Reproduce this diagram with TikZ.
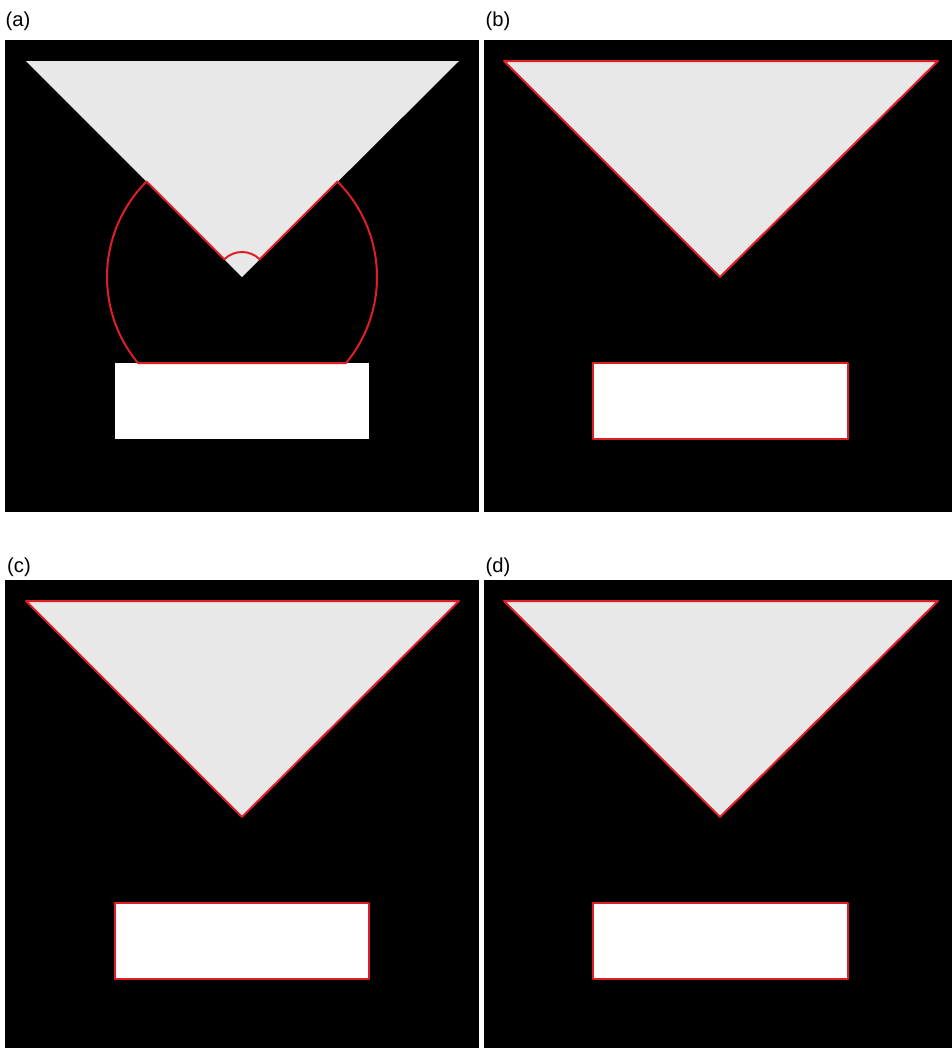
\documentclass[tikz,border=0pt]{standalone}
\usepackage{fontspec}
\setmainfont{Liberation Sans}
\usetikzlibrary{calc}
\definecolor{edgered}{RGB}{222,32,38}
\definecolor{wedge}{RGB}{232,232,232}
\begin{document}
\begin{tikzpicture}[x=0.02cm,y=-0.02cm,
  panel/.style={fill=black},
  tri/.style={fill=wedge},
  block/.style={fill=white},
  redline/.style={draw=edgered,line width=0.04cm,line join=round},
  lab/.style={font=\fontsize{11.5}{13}\selectfont,inner sep=0pt}]
\useasboundingbox[fill=white] (0,0) rectangle (952,1048);
% panels
\fill[panel] (5,40) rectangle (479,512);
\fill[panel] (484,40) rectangle (952,512);
\fill[panel] (5,580) rectangle (479,1048);
\fill[panel] (484,580) rectangle (952,1048);
% labels
\node[lab] (la) at (18,21) {(a)};
\node[lab] (lb) at (498,21) {(b)};
\node[lab] (lc) at (19,567) {(c)};
\node[lab] (ld) at (498,567) {(d)};
% panel (a)
\fill[tri] (26,61) -- (459,61) -- (242,277) -- cycle;
\fill[block] (115,363) rectangle (369,439);
\coordinate (A) at (242,277);
\draw[redline] ($(A)+(225:135)$) arc[start angle=225,end angle=140.4,radius=135]
  -- ($(A)+(39.6:135)$) arc[start angle=39.6,end angle=-45,radius=135]
  -- ($(A)+(-45:25)$) arc[start angle=-45,end angle=-135,radius=25] -- cycle;
% panel (b)
\filldraw[tri,redline] (504,61) -- (938,61) -- (720,277) -- cycle;
\filldraw[block,redline] (593,363) rectangle (848,439);
% panel (c)
\filldraw[tri,redline] (26,601) -- (459,601) -- (242,817) -- cycle;
\filldraw[block,redline] (115,903) rectangle (369,979);
% panel (d)
\filldraw[tri,redline] (504,601) -- (938,601) -- (720,817) -- cycle;
\filldraw[block,redline] (593,903) rectangle (848,979);
\end{tikzpicture}
\end{document}
